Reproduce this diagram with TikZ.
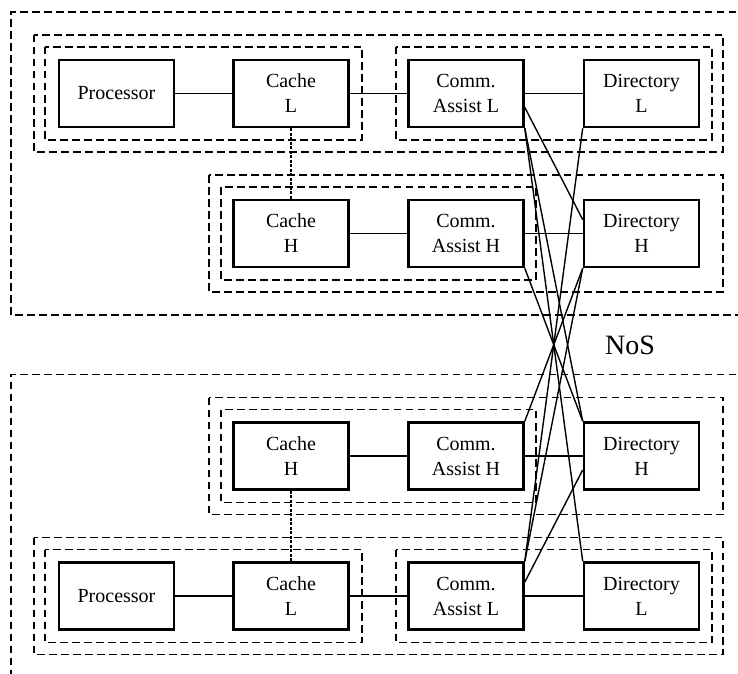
\documentclass[tikz,border=0pt]{standalone}
\usepackage{fontspec}
\setmainfont{Liberation Serif}
\usetikzlibrary{calc}
\begin{document}
\begin{tikzpicture}[x=1bp, y=-1bp,
  unit/.style={draw, line width=2.6bp, minimum width=115bp, minimum height=67bp,
    inner sep=0pt, align=center, font=\fontsize{20bp}{25bp}\selectfont},
  group/.style={draw, line width=1.2bp, dash pattern=on 7.5bp off 4.5bp},
  link/.style={line width=1.4bp},
  cachelink/.style={line width=1.5bp, dash pattern=on 3bp off 1.5bp},
  netlabel/.style={font=\fontsize{28bp}{34bp}\selectfont}]

\clip (0,0) rectangle (738,674);

% ---------- node boundaries (dashed) ----------
% upper node
\draw[group] (760,12) -- (11,12) -- (11,315) -- (760,315);
\draw[group] (34,35) rectangle (723,152);
\draw[group] (45,47) rectangle (362,140);
\draw[group] (396,47) rectangle (712,140);
\draw[group] (209,175) rectangle (723,292);
\draw[group] (221,187) rectangle (536,280);
% lower node
\draw[group] (760,374.5) -- (11,374.5) -- (11,700);
\draw[group] (209,397.5) rectangle (723,514.5);
\draw[group] (221,409.5) rectangle (536,502.5);
\draw[group] (34,537.5) rectangle (723,654.5);
\draw[group] (45,549.5) rectangle (362,642.5);
\draw[group] (396,549.5) rectangle (712,642.5);

% ---------- upper node units ----------
\node[unit] (p1)  at (116.5,93.5)  {Processor};
\node[unit] (cl1) at (291,93.5)    {Cache\\L};
\node[unit] (al1) at (466,93.5)    {Comm.\\Assist L};
\node[unit] (dl1) at (641.5,93.5)  {Directory\\L};
\node[unit] (ch1) at (291,233.5)   {Cache\\H};
\node[unit] (ah1) at (466,233.5)   {Comm.\\Assist H};
\node[unit] (dh1) at (641.5,233.5) {Directory\\H};

% ---------- lower node units ----------
\node[unit] (ch2) at (291,456)     {Cache\\H};
\node[unit] (ah2) at (466,456)     {Comm.\\Assist H};
\node[unit] (dh2) at (641.5,456)   {Directory\\H};
\node[unit] (p2)  at (116.5,596)   {Processor};
\node[unit] (cl2) at (291,596)     {Cache\\L};
\node[unit] (al2) at (466,596)     {Comm.\\Assist L};
\node[unit] (dl2) at (641.5,596)   {Directory\\L};

\node[netlabel] (nos) at (630,345) {NoS};

% ---------- local links ----------
\draw[link] (p1) -- (cl1);
\draw[link] (cl1) -- (al1);
\draw[link] (al1) -- (dl1);
\draw[link] (ch1) -- (ah1);
\draw[link] (ah1) -- (dh1);
\draw[cachelink] (cl1.south) -- (ch1.north);
\draw[link] ($(al1.east)!0.4!(al1.south east)$) -- ($(dh1.west)!0.4!(dh1.north west)$);

\draw[link] (p2) -- (cl2);
\draw[link] (cl2) -- (al2);
\draw[link] (al2) -- (dl2);
\draw[link] (ch2) -- (ah2);
\draw[link] (ah2) -- (dh2);
\draw[cachelink] (cl2.north) -- (ch2.south);
\draw[link] ($(al2.east)!0.4!(al2.north east)$) -- ($(dh2.west)!0.4!(dh2.south west)$);

% ---------- links across the network ----------
\draw[link] (al1.south east) -- (dl2.north west);
\draw[link] (al1.south east) -- (dh2.north west);
\draw[link] (ah1.south east) -- (dh2.north west);
\draw[link] (al2.north east) -- (dl1.south west);
\draw[link] (al2.north east) -- (dh1.south west);
\draw[link] (ah2.north east) -- (dh1.south west);

\end{tikzpicture}
\end{document}
